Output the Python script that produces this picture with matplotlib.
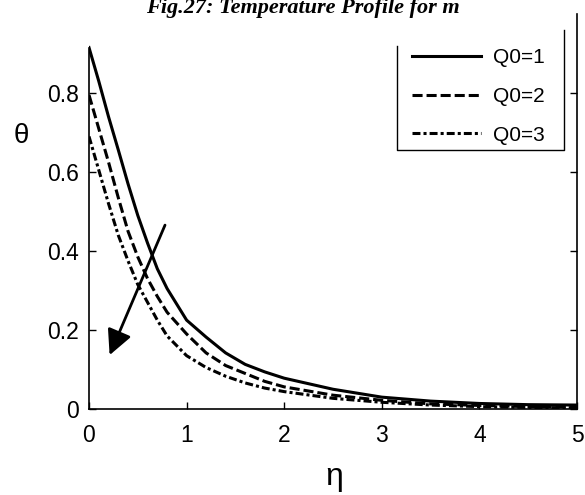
import matplotlib
matplotlib.use("Agg")
import matplotlib.pyplot as plt

eta = [0, 0.1, 0.2, 0.3, 0.4, 0.5, 0.6, 0.7, 0.8, 1.0, 1.2, 1.4, 1.6, 1.8, 2.0, 2.5, 3.0, 3.5, 4.0, 4.5, 5.0]
theta_q1 = [0.915, 0.83, 0.74, 0.656, 0.57, 0.49, 0.42, 0.355, 0.305, 0.225, 0.182, 0.142, 0.113, 0.094, 0.078, 0.05, 0.03, 0.02, 0.014, 0.011, 0.01]
theta_q2 = [0.795, 0.71, 0.625, 0.535, 0.45, 0.385, 0.33, 0.285, 0.245, 0.19, 0.142, 0.11, 0.09, 0.07, 0.056, 0.035, 0.022, 0.013, 0.009, 0.006, 0.005]
theta_q3 = [0.69, 0.605, 0.52, 0.44, 0.375, 0.315, 0.27, 0.225, 0.185, 0.135, 0.105, 0.083, 0.066, 0.053, 0.044, 0.027, 0.017, 0.01, 0.006, 0.004, 0.003]
labels = ["Q0=1", "Q0=2", "Q0=3"]
xticks = [0, 1, 2, 3, 4, 5]
yticks = [0, 0.2, 0.4, 0.6, 0.8]

plt.rcParams['font.family'] = ['Liberation Sans', 'DejaVu Sans']

fig = plt.figure(figsize=(5.85, 4.95), dpi=100)
ax = fig.add_axes([89/585, 1 - 409/495, 488/585, 395/495])

lw = 2.2
l1, = ax.plot(eta, theta_q1, color='black', lw=lw, linestyle='-', label=labels[0])
l2, = ax.plot(eta, theta_q2, color='black', lw=lw, linestyle=(0, (3.3, 1.3)), label=labels[1])
l3, = ax.plot(eta, theta_q3, color='black', lw=lw, linestyle=(0, (2.6, 1.0, 1.0, 1.0)), label=labels[2])

ax.set_xlim(0, 5)
ax.set_ylim(0, 1)
ax.set_xticks(xticks)
ax.set_xticklabels([str(v) for v in xticks])
ax.set_yticks(yticks)
ax.set_yticklabels(["0", "0.2", "0.4", "0.6", "0.8"])
ax.tick_params(direction='in', length=5, width=1, labelsize=16.5, right=True, top=False, pad=7)
ax.tick_params(axis='x', pad=11)
ax.spines['top'].set_visible(False)
ax.spines['left'].set_bounds(0, 0.915)
for s in ['left', 'right', 'bottom']:
    ax.spines[s].set_linewidth(1.2)

ax.set_xlabel('η', fontsize=23)
ax.xaxis.set_label_coords(0.502, -0.135)
ax.set_ylabel('θ', fontsize=20, rotation=0, va='center')
ax.yaxis.set_label_coords(-0.138, 0.69)

# arrow indicating increasing Q0
ax.annotate('', xy=(0.2, 0.13), xytext=(0.79, 0.472),
            arrowprops=dict(arrowstyle='-|>', lw=2.0, color='black', mutation_scale=38))

leg = ax.legend(handles=[l1, l2, l3], loc='upper left', bbox_to_anchor=(0.645, 0.935),
                frameon=False, fontsize=15, handlelength=3.3, labelspacing=0.95,
                handletextpad=0.6, borderaxespad=0)
# legend border (top edge not visible in the original)
bx0, bx1, by0, by1 = 0.631, 0.973, 0.656, 0.919
ax.plot([bx0, bx0, bx1, bx1], [by1, by0, by0, 0.96], color='black', lw=1.0,
        transform=ax.transAxes, clip_on=False)

fig.text(0.518, 1 - 13.5/495, 'Fig.27: Temperature Profile for m', ha='center', va='baseline',
         fontsize=16, fontweight='bold', fontstyle='italic', family=['Liberation Serif', 'DejaVu Serif'])

fig.savefig('out.png', dpi=100)
